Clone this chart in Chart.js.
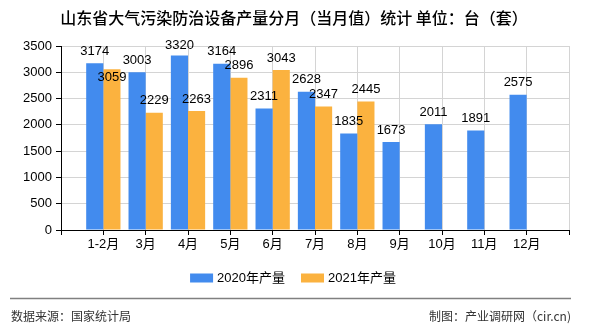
<!DOCTYPE html>
<html>
<head>
<meta charset="utf-8">
<script src="https://cdn.jsdelivr.net/npm/chart.js@4/dist/chart.umd.min.js"></script>
<style>
  html, body { margin: 0; padding: 0; background: #fff; }
  #wrap { width: 590px; height: 330px; position: relative; }
</style>
</head>
<body>
<div id="wrap"><canvas id="chart" width="590" height="330"></canvas></div>
<script>
// chart data
const categories = ['1-2月', '3月', '4月', '5月', '6月', '7月', '8月', '9月', '10月', '11月', '12月'];
const output2020 = [3174, 3003, 3320, 3164, 2311, 2628, 1835, 1673, 2011, 1891, 2575];
const output2021 = [3059, 2229, 2263, 2896, 3043, 2347, 2445, null, null, null, null];
const seriesNames = ['2020年产量', '2021年产量'];
const yMax = 3500;
const yStep = 500;

const titleText = '山东省大气污染防治设备产量分月（当月值）统计 单位：台（套）';
const sourceText = '数据来源：国家统计局';
const makerText = '制图：产业调研网（cir.cn)';

const numFont = "'Liberation Sans Narrow', 'Liberation Sans', 'Noto Sans CJK SC', sans-serif";
const cjkFont = "'Noto Sans CJK SC', sans-serif";

// the axis has an empty slot on each side, categories sit on the grid lines
const pad = arr => [null, ...arr, null];

const labelPlugin = {
    id: 'extras',
    afterDraw(chart) {
        const ctx = chart.ctx;
        const area = chart.chartArea;
        ctx.save();

        // title
        ctx.fillStyle = '#000';
        ctx.font = '500 16px ' + cjkFont;
        ctx.textAlign = 'center';
        ctx.textBaseline = 'middle';
        ctx.fillText(titleText, 294, 18);

        // value labels
        ctx.font = '13px ' + numFont;
        const metaA = chart.getDatasetMeta(0);
        const metaB = chart.getDatasetMeta(1);
        for (let i = 0; i < metaA.data.length; i++) {
            let rectA = null;
            const a = chart.data.datasets[0].data[i];
            if (a != null) {
                const bar = metaA.data[i];
                const y = Math.max(bar.y - 12, area.top - 0.5);
                ctx.fillText(String(a), bar.x, y);
                const w = ctx.measureText(String(a)).width;
                rectA = { l: bar.x - w / 2, r: bar.x + w / 2, t: y - 5, b: y + 5 };
            }
            const b = chart.data.datasets[1].data[i];
            if (b != null) {
                const bar = metaB.data[i];
                let y = Math.max(bar.y - 12, area.top - 0.5);
                const w = ctx.measureText(String(b)).width;
                if (rectA && bar.x - w / 2 < rectA.r && bar.x + w / 2 > rectA.l &&
                    y - 5 < rectA.b && y + 5 > rectA.t) {
                    y = bar.y + 8;
                }
                ctx.fillText(String(b), bar.x, y);
            }
        }

        // legend
        ctx.font = '13px ' + numFont;
        ctx.textAlign = 'left';
        const boxW = 23, boxH = 9, gapText = 4, gapItem = 16;
        const items = chart.data.datasets.map(ds => ({
            label: ds.label, color: ds.backgroundColor,
            w: ctx.measureText(ds.label).width
        }));
        let total = 0;
        items.forEach((it, k) => { total += boxW + gapText + it.w + (k ? gapItem : 0); });
        let x = 293 - total / 2;
        const ly = 278;
        items.forEach(it => {
            ctx.fillStyle = it.color;
            ctx.fillRect(x, ly - boxH / 2, boxW, boxH);
            ctx.fillStyle = '#000';
            ctx.fillText(it.label, x + boxW + gapText, ly);
            x += boxW + gapText + it.w + gapItem;
        });

        // footer
        ctx.strokeStyle = '#808080';
        ctx.lineWidth = 1.5;
        ctx.beginPath();
        ctx.moveTo(10, 298.5);
        ctx.lineTo(571, 298.5);
        ctx.stroke();
        ctx.fillStyle = '#333';
        ctx.font = '12px ' + cjkFont;
        ctx.textAlign = 'left';
        ctx.fillText(sourceText, 11, 316);
        ctx.textAlign = 'right';
        ctx.fillText(makerText, 571, 316);

        ctx.restore();
    }
};

new Chart(document.getElementById('chart'), {
    type: 'bar',
    data: {
        labels: ['', ...categories, ''],
        datasets: [{
            label: seriesNames[0],
            data: pad(output2020),
            backgroundColor: '#428BEE',
            categoryPercentage: 0.81,
            barPercentage: 1
        }, {
            label: seriesNames[1],
            data: pad(output2021),
            backgroundColor: '#FBB23F',
            categoryPercentage: 0.81,
            barPercentage: 1
        }]
    },
    options: {
        responsive: false,
        animation: false,
        events: [],
        layout: { padding: { top: 46, right: 21, bottom: 70, left: 0 } },
        plugins: {
            legend: { display: false },
            title: { display: false },
            tooltip: { enabled: false }
        },
        scales: {
            x: {
                offset: false,
                grid: { offset: false, color: '#D4D4D4', tickColor: '#000', tickLength: 5, lineWidth: 1 },
                border: { color: '#000', width: 1 },
                ticks: { color: '#000', font: { family: numFont, size: 13 }, padding: 2, maxRotation: 0, autoSkip: false },
                afterFit(s) { s.height = 30; }
            },
            y: {
                min: 0,
                max: yMax,
                grid: { color: '#D4D4D4', tickColor: '#000', tickLength: 5, lineWidth: 1 },
                border: { color: '#000', width: 1 },
                ticks: {
                    stepSize: yStep, color: '#000', font: { family: numFont, size: 13 }, padding: 4,
                    callback: v => String(v)
                },
                afterFit(s) { s.width = 61; }
            }
        }
    },
    plugins: [labelPlugin]
});
</script>
</body>
</html>
